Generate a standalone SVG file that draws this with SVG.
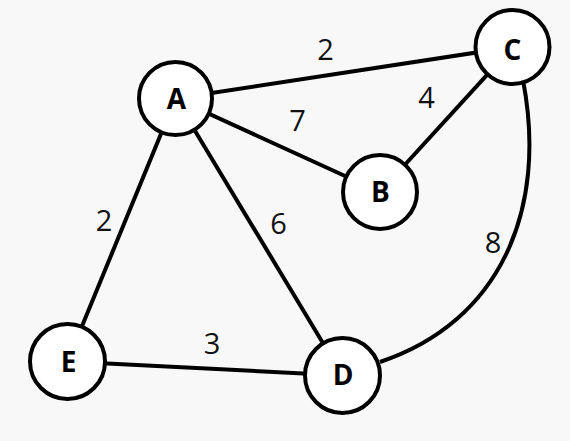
<svg xmlns="http://www.w3.org/2000/svg" width="570" height="441" viewBox="0 0 570 441">
<style>
.edge{stroke:#000;stroke-width:4;fill:none}
.node circle{fill:#fff;stroke:#000;stroke-width:4}
.node text{font-family:"Open Sans","Noto Sans",sans-serif;font-weight:700;font-size:28px;text-anchor:middle;fill:#000}
.lbl{font-family:"Open Sans","Noto Sans",sans-serif;font-weight:400;font-size:29px;text-anchor:middle;fill:#111}
</style>
<rect width="570" height="441" fill="#f8f8f8"/>
<g id="connectors">
<line class="edge" x1="175.5" y1="98.5" x2="512.5" y2="47"/>
<line class="edge" x1="175.5" y1="98.5" x2="380" y2="192"/>
<line class="edge" x1="512.5" y1="47" x2="380" y2="192"/>
<line class="edge" x1="175.5" y1="98.5" x2="67.5" y2="361.5"/>
<line class="edge" x1="175.5" y1="98.5" x2="342.5" y2="375.5"/>
<line class="edge" x1="67.5" y1="361.5" x2="342.5" y2="375.5"/>
<path class="edge" d="M523,80 C548,210 500,322 380,362"/>
<text class="lbl" x="325.5" y="60">2</text>
<text class="lbl" x="297.5" y="131">7</text>
<text class="lbl" x="426.5" y="108">4</text>
<text class="lbl" x="104" y="231">2</text>
<text class="lbl" x="278.5" y="233.5">6</text>
<text class="lbl" x="212" y="354">3</text>
<text class="lbl" x="493" y="253">8</text>
</g>
<g id="node-A" class="node"><circle cx="175.5" cy="98.5" r="36.5"/><text x="176.5" y="109">A</text></g>
<g id="node-C" class="node"><circle cx="512.5" cy="47" r="37"/><text x="512.5" y="60">C</text></g>
<g id="node-B" class="node"><circle cx="380" cy="192" r="37"/><text x="380.5" y="202">B</text></g>
<g id="node-E" class="node"><circle cx="67.5" cy="361.5" r="37.5"/><text x="68.5" y="372">E</text></g>
<g id="node-D" class="node"><circle cx="342.5" cy="375.5" r="37.5"/><text x="343" y="385">D</text></g>
</svg>
